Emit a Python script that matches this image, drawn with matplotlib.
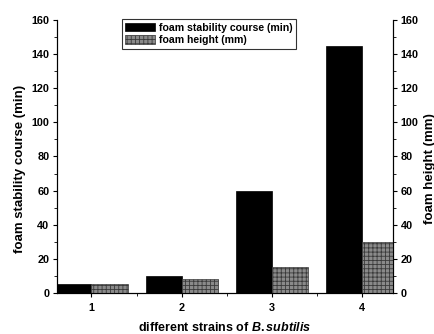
import matplotlib
matplotlib.use("Agg")
import matplotlib.pyplot as plt
import numpy as np

plt.rcParams['font.family'] = ['Liberation Sans', 'DejaVu Sans']
plt.rcParams['font.weight'] = 'bold'
plt.rcParams['hatch.linewidth'] = 0.6
plt.rcParams['mathtext.fontset'] = 'custom'
plt.rcParams['mathtext.it'] = 'Liberation Sans:italic:bold'
plt.rcParams['mathtext.rm'] = 'Liberation Sans:bold'

strains = [1, 2, 3, 4]
stability_min = [5, 10, 60, 145]
height_mm = [5, 8, 15, 30]
yticks = [0, 20, 40, 60, 80, 100, 120, 140, 160]

fig = plt.figure(figsize=(4.35, 3.34), dpi=100)
ax = fig.add_axes([0.131, 0.123, 0.772, 0.817])
ax2 = ax.twinx()

x = np.array(strains, dtype=float)
w = 0.4
b1 = ax.bar(x - w/2, stability_min, width=w, color='black', edgecolor='black', linewidth=0.5,
            label='foam stability course (min)')
b2 = ax2.bar(x + w/2, height_mm, width=w, color='#8a8a8a', edgecolor='#3a3a3a', linewidth=0.5,
             hatch='++++', label='foam height (mm)')

for a in (ax, ax2):
    a.set_ylim(0, 160)
    a.set_yticks(yticks)
    a.set_yticks(np.arange(0, 161, 10), minor=True)
    a.spines['top'].set_visible(False)
    a.tick_params(axis='both', which='major', labelsize=7.8, direction='out', length=3, width=0.8, pad=2.5)
    a.tick_params(axis='both', which='minor', direction='out', length=2, width=0.6)
    for lbl in a.get_yticklabels():
        lbl.set_fontweight('bold')

ax.set_xlim(0.617, 4.344)
ax.set_xticks(strains)
ax.set_xticks([1.5, 2.5, 3.5], minor=True)
ax.tick_params(axis='x', which='major', pad=4)
for lbl in ax.get_xticklabels():
    lbl.set_fontweight('bold')

ax.set_ylabel('foam stability course (min)', fontsize=9.5, fontweight='bold')
ax.yaxis.set_label_coords(-0.092, 0.454)
ax2.set_ylabel('foam height (mm)', fontsize=9.5, fontweight='bold')
ax2.yaxis.set_label_coords(1.092, 0.454)
ax.set_xlabel(r'different strains of $\mathit{B.subtilis}$', fontsize=9, fontweight='bold', labelpad=6)

leg = fig.legend(handles=[b1, b2], loc='upper left', bbox_to_anchor=(0.280, 0.943),
                 fontsize=7.6, frameon=True, fancybox=False, edgecolor='black',
                 handlelength=2.8, handleheight=0.9, borderpad=0.35, labelspacing=0.25,
                 handletextpad=0.35, borderaxespad=0)
leg.get_frame().set_linewidth(0.8)
for t in leg.get_texts():
    t.set_fontweight('bold')

fig.savefig('out.png', dpi=100)
